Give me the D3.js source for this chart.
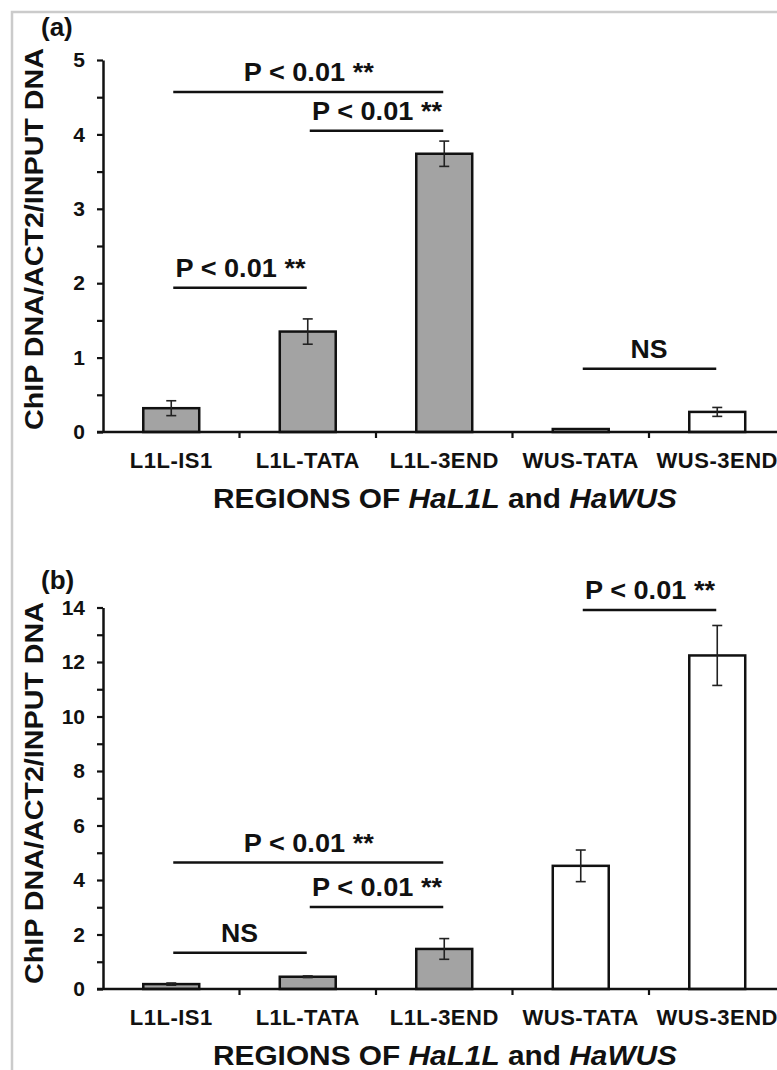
<!DOCTYPE html>
<html>
<head>
<meta charset="utf-8">
<script src="https://cdn.jsdelivr.net/npm/d3@7"></script>
<style>
  body { margin: 0; background: #fff; }
  text { font-family: "Liberation Sans", Arial, sans-serif; font-weight: bold; fill: #111; }
</style>
</head>
<body>
<div id="chart"></div>
<script>
// categories shared by both panels
var regions = ["L1L-IS1", "L1L-TATA", "L1L-3END", "WUS-TATA", "WUS-3END"];
var groups = ["L1L", "L1L", "L1L", "WUS", "WUS"];

// panel (a)
var valuesA = [0.32, 1.35, 3.74, 0.04, 0.27];
var errorsA = [0.10, 0.17, 0.17, 0.00, 0.06];
var majorTicksA = [0, 1, 2, 3, 4, 5];
var minorTicksA = [0.5, 1.5, 2.5, 3.5, 4.5];
var sigA = [
  {from: "L1L-IS1", to: "L1L-3END", level: 4.57, label: "P < 0.01 **"},
  {from: "L1L-TATA", to: "L1L-3END", level: 4.05, label: "P < 0.01 **"},
  {from: "L1L-IS1", to: "L1L-TATA", level: 1.94, label: "P < 0.01 **"},
  {from: "WUS-TATA", to: "WUS-3END", level: 0.85, label: "NS"}
];

// panel (b)
var valuesB = [0.18, 0.45, 1.47, 4.52, 12.24];
var errorsB = [0.04, 0.03, 0.38, 0.58, 1.10];
var majorTicksB = [0, 2, 4, 6, 8, 10, 12, 14];
var minorTicksB = [1, 3, 5, 7, 9, 11, 13];
var sigB = [
  {from: "WUS-TATA", to: "WUS-3END", level: 13.91, label: "P < 0.01 **"},
  {from: "L1L-IS1", to: "L1L-3END", level: 4.64, label: "P < 0.01 **"},
  {from: "L1L-TATA", to: "L1L-3END", level: 3.01, label: "P < 0.01 **"},
  {from: "L1L-IS1", to: "L1L-TATA", level: 1.33, label: "NS"}
];

var W = 777, H = 1070;
var fillColor = {L1L: "#a3a3a3", WUS: "#ffffff"};

var svg = d3.select("#chart").append("svg")
    .attr("width", W)
    .attr("height", H);

svg.append("rect").attr("width", W).attr("height", H).attr("fill", "#fff");

// grey frame of the scanned figure
svg.append("path")
    .attr("d", "M12," + H + "V12H" + W)
    .attr("fill", "none")
    .attr("stroke", "#cbcbcb")
    .attr("stroke-width", 2.5);

var x = d3.scaleBand()
    .domain(regions)
    .range([103, 785.5]);

function drawPanel(opt) {
  var values = opt.values, errors = opt.errors;
  var y = d3.scaleLinear()
      .domain([0, opt.max])
      .range([opt.bottom, opt.top]);

  var g = svg.append("g");
  var barW = x.bandwidth() * 0.41;
  var rows = regions.map(function(r, i) {
    return {region: r, group: groups[i], value: values[i], err: errors[i]};
  });

  // bars
  g.selectAll(".bar")
    .data(rows)
    .enter().append("rect")
      .attr("class", "bar")
      .attr("x", function(d) { return x(d.region) + (x.bandwidth() - barW) / 2; })
      .attr("y", function(d) { return y(d.value); })
      .attr("width", barW)
      .attr("height", function(d) { return y(0) - y(d.value); })
      .attr("fill", function(d) { return fillColor[d.group]; })
      .attr("stroke", "#111")
      .attr("stroke-width", 2.5);

  // error bars
  var eb = g.selectAll(".err")
    .data(rows.filter(function(d) { return d.err > 0; }))
    .enter().append("g")
      .attr("class", "err")
      .attr("stroke", "#222")
      .attr("stroke-width", 1.6);
  eb.append("line")
      .attr("x1", function(d) { return x(d.region) + x.bandwidth() / 2; })
      .attr("x2", function(d) { return x(d.region) + x.bandwidth() / 2; })
      .attr("y1", function(d) { return y(d.value + d.err); })
      .attr("y2", function(d) { return y(d.value - d.err); });
  [1, -1].forEach(function(s) {
    eb.append("line")
        .attr("x1", function(d) { return x(d.region) + x.bandwidth() / 2 - 5; })
        .attr("x2", function(d) { return x(d.region) + x.bandwidth() / 2 + 5; })
        .attr("y1", function(d) { return y(d.value + s * d.err); })
        .attr("y2", function(d) { return y(d.value + s * d.err); });
  });

  // y axis
  var yAxis = g.append("g")
      .attr("transform", "translate(103,0)")
      .call(d3.axisLeft(y).tickValues(opt.major).tickFormat(d3.format("d"))
        .tickSize(6).tickSizeOuter(0).tickPadding(12));
  g.append("g")
      .attr("transform", "translate(103,0)")
      .call(d3.axisLeft(y).tickValues(opt.minor).tickSize(6).tickSizeOuter(0).tickFormat(""))
      .select(".domain").remove();
  g.selectAll(".tick line").attr("stroke", "#111").attr("stroke-width", 2.2);
  yAxis.select(".domain").attr("stroke", "#111").attr("stroke-width", 2.5);
  yAxis.attr("font-size", 21).attr("font-family", null);
  yAxis.selectAll(".tick text")
      .attr("fill", "#111");

  // x axis line with ticks between categories
  g.append("line")
      .attr("x1", 97).attr("x2", W)
      .attr("y1", y(0)).attr("y2", y(0))
      .attr("stroke", "#111").attr("stroke-width", 2.5);
  g.selectAll(".xtick")
    .data(regions.slice(1))
    .enter().append("line")
      .attr("x1", function(d) { return x(d); })
      .attr("x2", function(d) { return x(d); })
      .attr("y1", y(0))
      .attr("y2", y(0) + 6)
      .attr("stroke", "#111").attr("stroke-width", 2.2);
  g.selectAll(".xlab")
    .data(regions)
    .enter().append("text")
      .attr("x", function(d) { return x(d) + x.bandwidth() / 2; })
      .attr("y", y(0) + 36)
      .attr("text-anchor", "middle")
      .style("font-size", "22px")
      .style("letter-spacing", "0.5px")
      .text(function(d) { return d; });

  // x title
  var t = g.append("text")
      .attr("x", 445)
      .attr("y", y(0) + 76)
      .attr("text-anchor", "middle")
      .attr("textLength", 464)
      .attr("lengthAdjust", "spacingAndGlyphs")
      .style("font-size", "27px");
  t.append("tspan").text("REGIONS OF ");
  t.append("tspan").style("font-style", "italic").text("HaL1L");
  t.append("tspan").text(" and ");
  t.append("tspan").style("font-style", "italic").text("HaWUS");

  // y title
  g.append("text")
      .attr("transform", "translate(43," + opt.labelY + ") rotate(-90)")
      .attr("text-anchor", "middle")
      .attr("textLength", 382)
      .attr("lengthAdjust", "spacingAndGlyphs")
      .style("font-size", "26px")
      .text("ChIP DNA/ACT2/INPUT DNA");

  // panel letter
  g.append("text")
      .attr("x", 41)
      .attr("y", opt.letterY)
      .style("font-size", "26px")
      .text(opt.letter);

  // significance brackets
  var cx = function(r) { return x(r) + x.bandwidth() / 2; };
  var sg = g.selectAll(".sig")
    .data(opt.sig)
    .enter().append("g");
  sg.append("line")
      .attr("x1", function(d) { return cx(d.from) + 2; })
      .attr("x2", function(d) { return cx(d.to) - 1; })
      .attr("y1", function(d) { return y(d.level); })
      .attr("y2", function(d) { return y(d.level); })
      .attr("stroke", "#111")
      .attr("stroke-width", 2.5);
  sg.append("text")
      .attr("x", function(d) { return (cx(d.from) + cx(d.to)) / 2 + (d.label == "NS" ? 0 : 1); })
      .attr("y", function(d) { return y(d.level) - 11; })
      .attr("text-anchor", "middle")
      .attr("textLength", function(d) { return d.label == "NS" ? 37 : 130; })
      .attr("lengthAdjust", "spacingAndGlyphs")
      .style("font-size", "25px")
      .text(function(d) { return d.label; });
}

drawPanel({values: valuesA, errors: errorsA, max: 5, top: 60, bottom: 432,
  major: majorTicksA, minor: minorTicksA, sig: sigA, letter: "(a)", letterY: 36, labelY: 239});
drawPanel({values: valuesB, errors: errorsB, max: 14, top: 607.5, bottom: 989,
  major: majorTicksB, minor: minorTicksB, sig: sigB, letter: "(b)", letterY: 589, labelY: 793});
</script>
</body>
</html>
